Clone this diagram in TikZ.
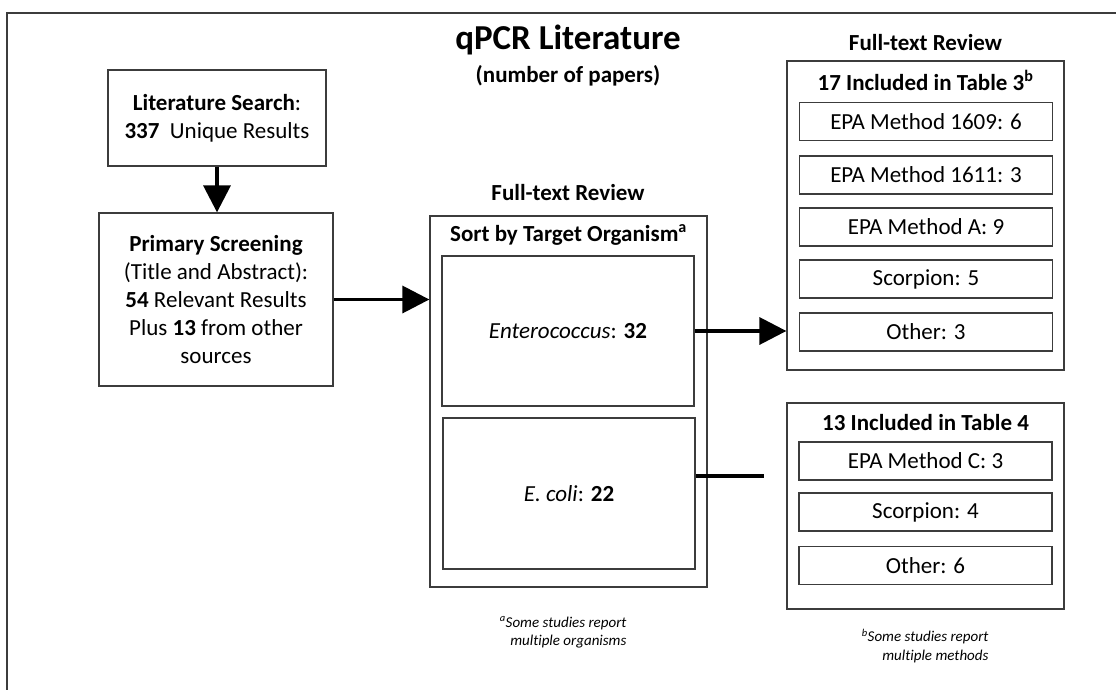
\documentclass[tikz,border=0pt]{standalone}
\usepackage{fontspec}
\setmainfont{Carlito}[Ligatures=NoCommon]
\usepackage{xcolor}
\usepackage{tikz}
\usetikzlibrary{arrows.meta,positioning}
\definecolor{boxline}{RGB}{60,60,60}
\newcommand{\bodyfont}{\fontsize{23}{28}\selectfont}
\newcommand{\headfont}{\fontsize{23}{28}\selectfont\bfseries}
\newcommand{\titlefont}{\fontsize{35}{40}\selectfont\bfseries}
\newcommand{\notefont}{\fontsize{15}{18.5}\selectfont\itshape}
\tikzset{
  frame/.style={draw=boxline, line width=1.3pt, inner sep=0pt},
  methodbox/.style={frame, minimum width=253pt, minimum height=38pt, font=\bodyfont},
  flow/.style={-{Triangle[length=27pt,width=27pt]}, line width=3.5pt},
}

\begin{document}
\begin{tikzpicture}[x=1pt,y=-1pt]
  \useasboundingbox (0,0) rectangle (1116,690);
  \draw[boxline, line width=1.3pt] (7,690) -- (7,13) -- (1116,13);
  \node[font=\titlefont] (title) at (568,40) {qPCR Literature};
  \node[font=\headfont] (subtitle) at (568,76) {(number of papers)};
  \node[frame, minimum width=218pt, minimum height=96pt, align=center, font=\bodyfont] (search) at (217,118)
    {\textbf{Literature Search}:\\ \textbf{337}~ Unique Results};
  \node[frame, minimum width=234pt, minimum height=173pt, align=center, font=\bodyfont] (screen) at (216,299.5)
    {\textbf{Primary Screening}\\(Title and Abstract):\\\textbf{54} Relevant Results\\Plus \textbf{13} from other\\sources};
  \node[font=\headfont] (review1) at (568,193) {Full-text Review};
  \node[frame, minimum width=277pt, minimum height=371pt] (organism) at (568.5,401.5) {};
  \node[font=\headfont] (sorthead) at (568.5,235) {Sort by Target Organism\textsuperscript{a}};
  \node[frame, minimum width=252pt, minimum height=150pt, font=\bodyfont] (entero) at (568,331) {\textit{Enterococcus}: \textbf{32}};
  \node[frame, minimum width=252pt, minimum height=151pt, font=\bodyfont] (ecoli) at (569,493.5) {\textit{E. coli}: \textbf{22}};
  \node[font=\notefont, align=right, anchor=east] (notea) at (630,632.5) {\textsuperscript{a}Some studies report\\multiple organisms};
  \node[font=\headfont] (review2) at (925.5,43) {Full-text Review};
  \node[frame, minimum width=277pt, minimum height=309pt] (tab3) at (925.5,215.5) {};
  \node[font=\headfont] (tab3head) at (925.5,80) {17 Included in Table 3\textsuperscript{b}};
  \foreach \name/\ypos/\txt in {m1609/121.5/{EPA Method 1609: 6}, m1611/175/{EPA Method 1611: 3},
      mA/227/{EPA Method A: 9}, scorpA/279/{Scorpion: 5}, otherA/332/{Other: 3}}
    \node[methodbox] (\name) at (926,\ypos) {\txt};
  \node[frame, minimum width=277pt, minimum height=206pt] (tab4) at (925.5,506) {};
  \node[font=\headfont] (tab4head) at (925.5,423) {13 Included in Table 4};
  \foreach \name/\ypos/\txt in {mC/461/{EPA Method C: 3}, scorpB/512/{Scorpion: 4}, otherB/565.5/{Other: 6}}
    \node[methodbox] (\name) at (925.5,\ypos) {\txt};
  \node[font=\notefont, align=right, anchor=east] (noteb) at (992,646) {\textsuperscript{b}Some studies report\\multiple methods};
  \draw[flow] (search.south) -- (search.south |- screen.north);
  \draw[flow] (screen.east) -- (screen.east -| organism.west);
  \draw[flow] (entero.east) -- (entero.east -| tab3.west);
  \coordinate (ecolistub) at (764,476);
  \draw[line width=3.5pt] (ecolistub -| ecoli.east) -- (ecolistub);
\end{tikzpicture}
\end{document}
